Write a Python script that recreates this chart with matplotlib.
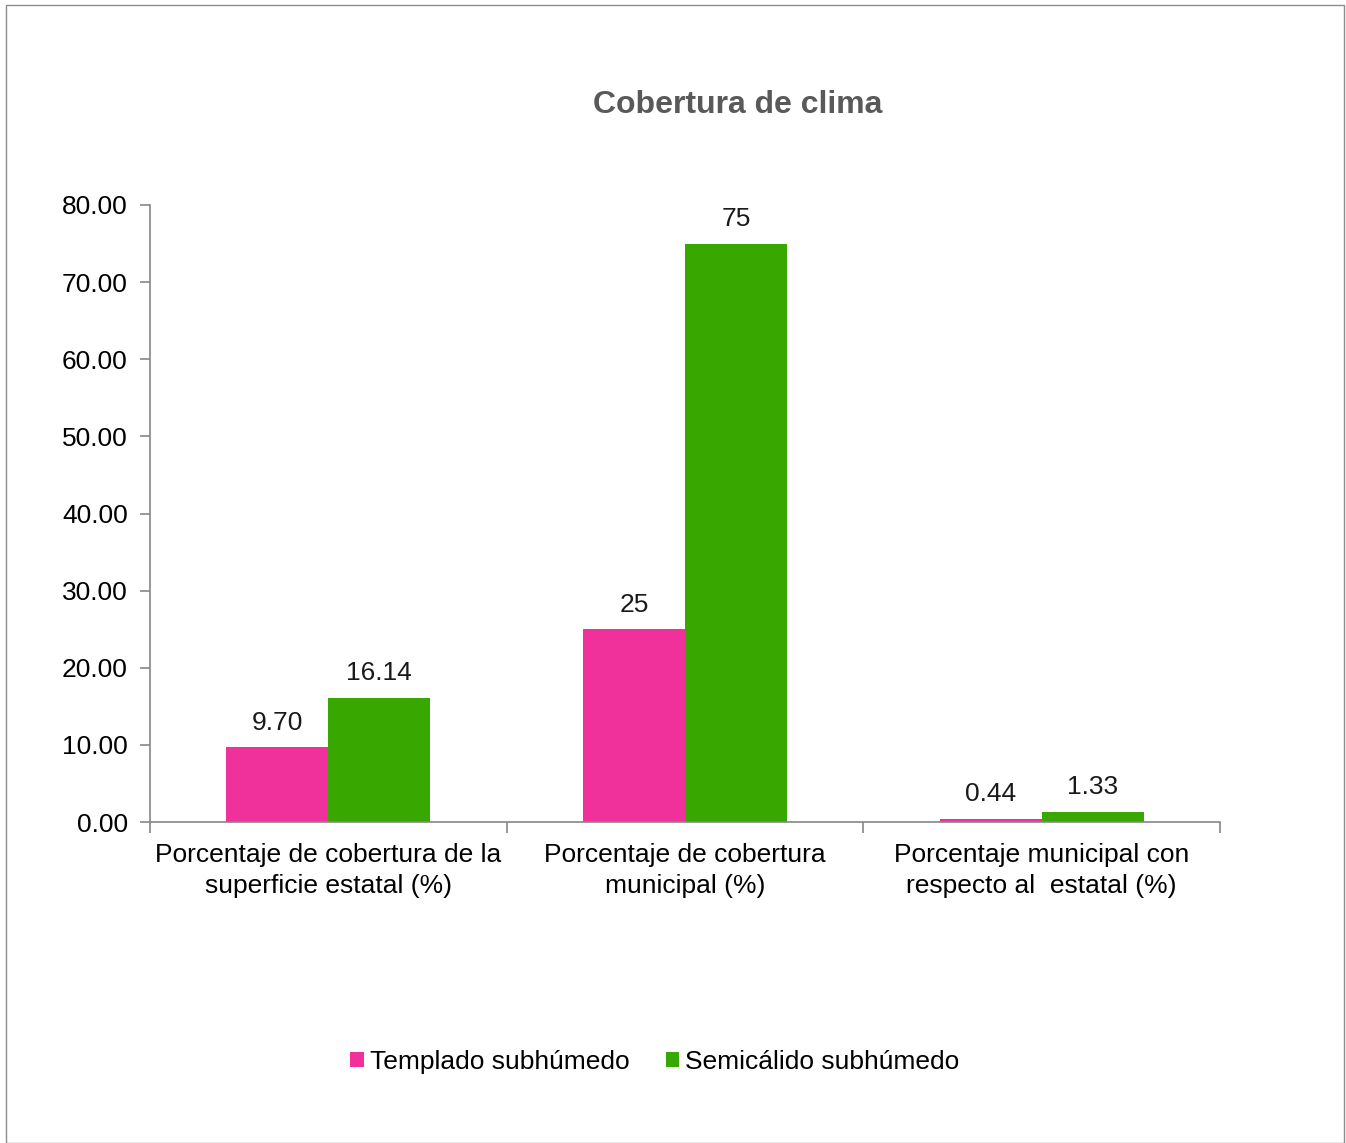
import matplotlib
matplotlib.use("Agg")
import matplotlib.pyplot as plt
from matplotlib.patches import Rectangle
import numpy as np

plt.rcParams['font.family'] = ['Liberation Sans', 'DejaVu Sans']

categories = ["Porcentaje de cobertura de la\nsuperficie estatal (%)",
              "Porcentaje de cobertura\nmunicipal (%)",
              "Porcentaje municipal con\nrespecto al  estatal (%)"]
series_names = ["Templado subhúmedo", "Semicálido subhúmedo"]
templado = [9.70, 25, 0.44]
semicalido = [16.14, 75, 1.33]
templado_labels = ["9.70", "25", "0.44"]
semicalido_labels = ["16.14", "75", "1.33"]
yticks = [0, 10, 20, 30, 40, 50, 60, 70, 80]
colors = ["#F0319C", "#38A800"]

W, H = 1346, 1143
fig = plt.figure(figsize=(W/100, H/100), dpi=100)
fig.patches.append(Rectangle((6/W, 0), (1344-6)/W, (1138-5)/H + 5/H, transform=fig.transFigure,
                             fill=False, edgecolor="#8C8C8C", linewidth=1.0))

FS = 19
ax = fig.add_axes([150/W, 1 - 822/H, (1220-150)/W, (822-205)/H])
x = np.arange(len(categories))
bw = 102/356.7
b1 = ax.bar(x - bw/2, templado, bw, color=colors[0], label=series_names[0])
b2 = ax.bar(x + bw/2, semicalido, bw, color=colors[1], label=series_names[1])
for bars, labs in [(b1, templado_labels), (b2, semicalido_labels)]:
    for r, l in zip(bars, labs):
        ax.annotate(l, (r.get_x() + r.get_width()/2, r.get_height()), xytext=(0, 9),
                    textcoords="offset points", ha="center", va="bottom", fontsize=FS, color="#1a1a1a")

ax.set_xlim(-0.5, len(categories) - 0.5)
ax.set_ylim(0, 80)
ax.set_yticks(yticks)
ax.set_yticklabels([f"{v:.2f}" for v in yticks], fontsize=FS)
ax.set_xticks(x)
ax.set_xticklabels(categories, fontsize=FS, linespacing=1.38)
ax.tick_params(axis='x', length=0, pad=15)
ax.set_xticks(np.arange(len(categories)+1) - 0.5, minor=True)
ax.tick_params(axis='x', which='minor', length=8, color="#868686", width=1.2)
ax.tick_params(axis='y', length=7, color="#868686", width=1.2, pad=9)
for s in ['top', 'right']:
    ax.spines[s].set_visible(False)
for s in ['left', 'bottom']:
    ax.spines[s].set_color("#868686")
    ax.spines[s].set_linewidth(1.2)

fig.text(738/W, 1 - 105/H, "Cobertura de clima", ha="center", va="center",
         fontsize=23, fontweight="bold", color="#595959")

leg = fig.legend(handles=[b1, b2], labels=series_names, loc="center", bbox_to_anchor=(655/W, 1 - 1062/H),
                 ncol=2, frameon=False, fontsize=FS, handlelength=0.5, handleheight=0.5,
                 handletextpad=0.25, columnspacing=1.35)

fig.savefig("out.png", dpi=100)
